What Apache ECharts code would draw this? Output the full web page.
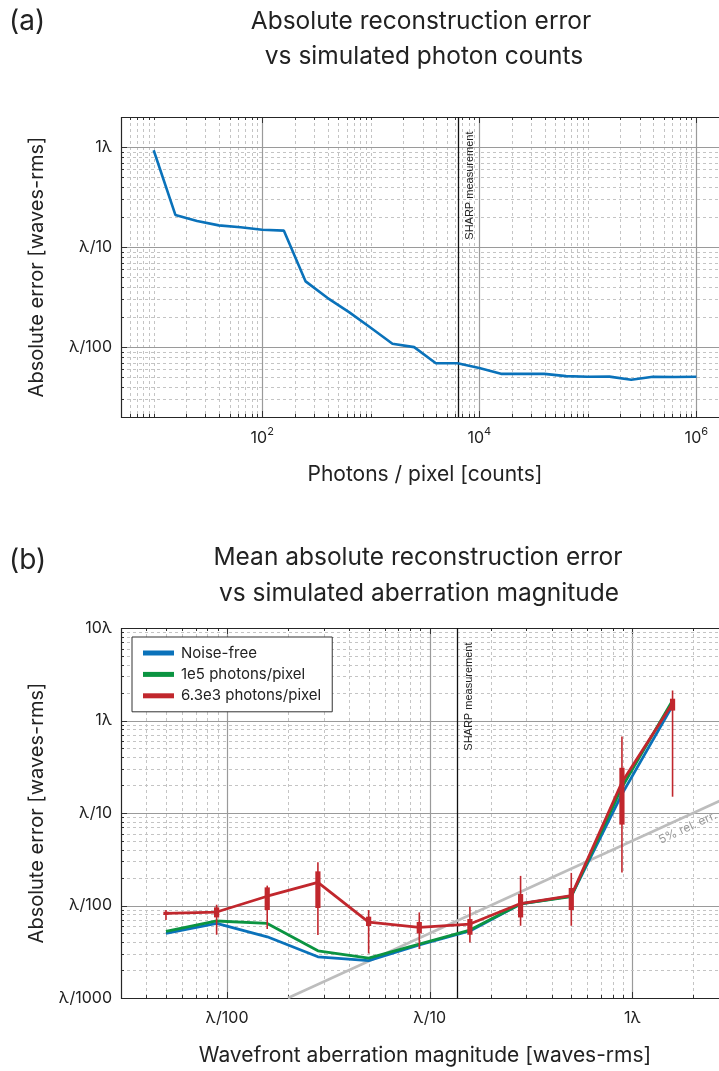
<!DOCTYPE html>
<html>
<head>
<meta charset="utf-8">
<script src="https://cdn.jsdelivr.net/npm/echarts@6/dist/echarts.min.js"></script>
<style>
  html, body { margin: 0; padding: 0; background: #ffffff; }
  #chart { width: 719px; height: 1071px; }
</style>
</head>
<body>
<div id="chart"></div>
<script>
// ---------- Panel (a): error vs photon count ----------
const photonCounts = [10, 15.85, 25.12, 39.81, 63.1, 100, 158.5, 251.2, 398.1, 631, 1000, 1585, 2512, 3981, 6310,
  10000, 15850, 25120, 39810, 63100, 100000, 158500, 251200, 398100, 631000, 1000000];
const photonError = [0.93, 0.21, 0.182, 0.165, 0.158, 0.149, 0.146, 0.0454, 0.0311, 0.0224, 0.0156, 0.0108, 0.0100,
  0.0069, 0.0069, 0.00617, 0.0054, 0.0054, 0.0054, 0.00513, 0.00505, 0.00507, 0.00471, 0.00505, 0.00502, 0.00505];
const photonTicks = [100, 10000, 1000000];
const photonTickExp = ['2', '4', '6'];
const errTicksA = [1, 0.1, 0.01];
const errTickLabelsA = ['1λ', 'λ/10', 'λ/100'];
const sharpPhotons = 6310;

// ---------- Panel (b): error vs aberration magnitude ----------
const aberrationRms = [0.005, 0.00889, 0.0158, 0.0281, 0.05, 0.0889, 0.158, 0.281, 0.5, 0.889, 1.58];
const errNoiseFree = [0.0050, 0.0064, 0.00459, 0.00279, 0.00253, 0.00374, 0.0053, 0.0104, 0.0126, 0.16, 1.45];
const err1e5 = [0.00525, 0.0068, 0.0064, 0.00324, 0.0027, 0.00383, 0.00543, 0.0104, 0.0125, 0.19, 1.65];
const err63e3 = [0.0082, 0.0085, 0.0126, 0.0178, 0.0066, 0.0058, 0.0063, 0.0105, 0.0128, 0.215, 1.54];
const err63e3WhiskerLow = [0.00697, 0.00483, 0.00557, 0.0048, 0.00303, 0.00338, 0.00399, 0.00604, 0.00604, 0.0228, 0.150];
const err63e3BoxLow = [0.00789, 0.00744, 0.00893, 0.0094, 0.0060, 0.00499, 0.00483, 0.00743, 0.00893, 0.0749, 1.28];
const err63e3BoxHigh = [0.00857, 0.00955, 0.0157, 0.0234, 0.00757, 0.00663, 0.00714, 0.0133, 0.01546, 0.308, 1.72];
const err63e3WhiskerHigh = [0.00893, 0.0102, 0.0164, 0.0293, 0.00893, 0.00842, 0.0097, 0.0209, 0.0225, 0.671, 2.11];
const relErrX = [0.02, 3];
const relErrY = [0.001, 0.15];
const relErrLabelAt = [1.78, 0.089];
const aberrTicks = [0.01, 0.1, 1];
const aberrTickLabels = ['λ/100', 'λ/10', '1λ'];
const errTicksB = [10, 1, 0.1, 0.01, 0.001];
const errTickLabelsB = ['10λ', '1λ', 'λ/10', 'λ/100', 'λ/1000'];
const sharpAberration = 0.137;

const FONT = 'Inter, Roboto, "Noto Sans", sans-serif';
const TEXT = '#222222';
const BLUE = '#0a72ba';
const GREEN = '#0b9441';
const RED = '#c1272d';
const MAJOR = { stroke: '#9a9a9a', lineWidth: 1.2 };
const MINOR = { stroke: '#c4c4c4', lineWidth: 1, lineDash: [3, 3] };
const TICK = { stroke: '#333333', lineWidth: 1 };

function matchTick(v, ticks) {
  for (let i = 0; i < ticks.length; i++) {
    if (Math.abs(Math.log10(v) - Math.log10(ticks[i])) < 1e-6) return i;
  }
  return -1;
}

// k * 10^e values strictly inside (lo, hi): positions of log grid lines
function decadeGrid(lo, hi) {
  const out = [];
  for (let e = Math.floor(Math.log10(lo)); e <= Math.ceil(Math.log10(hi)); e++) {
    for (let k = 1; k <= 9; k++) {
      const v = +(k * Math.pow(10, e)).toPrecision(6);
      if (v > lo * 1.0001 && v < hi * 0.9999) out.push(v);
    }
  }
  return out;
}

// Log grid (solid major, dashed minor), inside ticks and the plot box
function frameSeries(idx, xLim, yLim, xMajor, yMajor) {
  const xAll = decadeGrid(xLim[0], xLim[1]);
  const yAll = decadeGrid(yLim[0], yLim[1]);
  return {
    type: 'custom', xAxisIndex: idx, yAxisIndex: idx, z: 1, silent: true, clip: false,
    data: [[xLim[0], yLim[0]]],
    renderItem: (params, api) => {
      const cs = params.coordSys;
      const L = cs.x, T = cs.y, R = cs.x + cs.width, B = cs.y + cs.height;
      const kids = [];
      const seg = (x1, y1, x2, y2, style) => kids.push({ type: 'line', shape: { x1, y1, x2, y2 }, style });
      xAll.forEach(v => {
        const px = Math.round(api.coord([v, yLim[0]])[0]) + 0.5;
        const major = matchTick(v, xMajor) >= 0;
        seg(px, T, px, B, major ? MAJOR : MINOR);
        const len = major ? 6 : 3;
        seg(px, B, px, B - len, TICK);
        seg(px, T, px, T + len, TICK);
      });
      yAll.forEach(v => {
        const py = Math.round(api.coord([xLim[0], v])[1]) + 0.5;
        const major = matchTick(v, yMajor) >= 0;
        seg(L, py, R, py, major ? MAJOR : MINOR);
        const len = major ? 6 : 3;
        seg(L, py, L + len, py, TICK);
        seg(R, py, R - len, py, TICK);
      });
      kids.push({ type: 'rect', shape: { x: Math.round(L) + 0.5, y: Math.round(T) + 0.5, width: cs.width, height: cs.height },
        style: { fill: 'none', stroke: '#262626', lineWidth: 1.2 } });
      return { type: 'group', children: kids };
    }
  };
}

// Vertical marker for the SHARP measurement with its rotated caption
function sharpSeries(idx, xVal, yRef) {
  return {
    type: 'custom', xAxisIndex: idx, yAxisIndex: idx, z: 1.5, silent: true, clip: false,
    data: [[xVal, yRef]],
    renderItem: (params, api) => {
      const cs = params.coordSys;
      const px = Math.round(api.coord([api.value(0), api.value(1)])[0]) + 0.5;
      return { type: 'group', children: [
        { type: 'line', shape: { x1: px, y1: cs.y, x2: px, y2: cs.y + cs.height }, style: { stroke: '#111111', lineWidth: 1.3 } },
        { type: 'text', x: px + 5.5, y: cs.y + 14.5, rotation: Math.PI / 2,
          style: { text: 'SHARP measurement', fontSize: 11, fontFamily: '"Liberation Sans", Arial, sans-serif',
            fill: '#222222', align: 'right', verticalAlign: 'top' } }
      ] };
    }
  };
}

function axisFont(size) { return { fontSize: size, fontFamily: FONT, color: TEXT }; }

const option = {
  animation: false,
  backgroundColor: '#ffffff',
  textStyle: { fontFamily: FONT },
  grid: [
    { left: 121, top: 117, width: 608, height: 300, outerBoundsMode: 'none', containLabel: false },
    { left: 121, top: 628, width: 608, height: 370, outerBoundsMode: 'none', containLabel: false }
  ],
  xAxis: [
    {
      gridIndex: 0, type: 'log', logBase: 10, min: 5, max: 2e6,
      axisLine: { show: false }, axisTick: { show: false }, splitLine: { show: false },
      axisLabel: {
        margin: 9,
        formatter: v => { const i = matchTick(v, photonTicks); return i < 0 ? '' : '{b|10}{sup|' + photonTickExp[i] + '}'; },
        rich: {
          b: { fontSize: 16, fontFamily: FONT, color: TEXT, lineHeight: 20, verticalAlign: 'bottom' },
          sup: { fontSize: 11, fontFamily: FONT, color: TEXT, lineHeight: 12, verticalAlign: 'top' }
        }
      },
      name: 'Photons / pixel [counts]', nameLocation: 'middle', nameGap: 47, nameTextStyle: axisFont(21)
    },
    {
      gridIndex: 1, type: 'log', logBase: 10, min: 0.003, max: 3,
      axisLine: { show: false }, axisTick: { show: false }, splitLine: { show: false },
      axisLabel: {
        margin: 12, ...axisFont(16),
        formatter: v => { const i = matchTick(v, aberrTicks); return i < 0 ? '' : aberrTickLabels[i]; }
      },
      name: 'Wavefront aberration magnitude [waves-rms]', nameLocation: 'middle', nameGap: 47, nameTextStyle: axisFont(21)
    }
  ],
  yAxis: [
    {
      gridIndex: 0, type: 'log', logBase: 10, min: 0.002, max: 2,
      axisLine: { show: false }, axisTick: { show: false }, splitLine: { show: false },
      axisLabel: {
        margin: 9, ...axisFont(16),
        formatter: v => { const i = matchTick(v, errTicksA); return i < 0 ? '' : errTickLabelsA[i]; }
      },
      name: 'Absolute error [waves-rms]', nameLocation: 'middle', nameGap: 74, nameTextStyle: axisFont(20)
    },
    {
      gridIndex: 1, type: 'log', logBase: 10, min: 0.001, max: 10,
      axisLine: { show: false }, axisTick: { show: false }, splitLine: { show: false },
      axisLabel: {
        margin: 9, ...axisFont(16),
        formatter: v => { const i = matchTick(v, errTicksB); return i < 0 ? '' : errTickLabelsB[i]; }
      },
      name: 'Absolute error [waves-rms]', nameLocation: 'middle', nameGap: 74, nameTextStyle: axisFont(20)
    }
  ],
  legend: {
    data: ['Noise-free', '1e5 photons/pixel', '6.3e3 photons/pixel'],
    orient: 'vertical', left: 132, top: 637,
    backgroundColor: '#ffffff', borderColor: '#333333', borderWidth: 1, borderRadius: 0,
    padding: [7, 11, 7, 11], itemGap: 3.4,
    itemWidth: 31, itemHeight: 5, icon: 'rect',
    textStyle: { fontSize: 15, fontFamily: FONT, color: TEXT, lineHeight: 18, padding: [0, 0, 0, 2] }
  },
  graphic: [
    { type: 'text', x: 9, y: 22, style: { text: '(a)', fontSize: 28, fontFamily: FONT, fill: TEXT, align: 'left', verticalAlign: 'middle' } },
    { type: 'text', x: 421, y: 22, style: { text: 'Absolute reconstruction error', fontSize: 24.5, fontFamily: FONT, fill: TEXT, align: 'center', verticalAlign: 'middle' } },
    { type: 'text', x: 424, y: 57, style: { text: 'vs simulated photon counts', fontSize: 24.5, fontFamily: FONT, fill: TEXT, align: 'center', verticalAlign: 'middle' } },
    { type: 'text', x: 9, y: 561, style: { text: '(b)', fontSize: 28, fontFamily: FONT, fill: TEXT, align: 'left', verticalAlign: 'middle' } },
    { type: 'text', x: 418, y: 558, style: { text: 'Mean absolute reconstruction error', fontSize: 24.5, fontFamily: FONT, fill: TEXT, align: 'center', verticalAlign: 'middle' } },
    { type: 'text', x: 419, y: 594, style: { text: 'vs simulated aberration magnitude', fontSize: 24.5, fontFamily: FONT, fill: TEXT, align: 'center', verticalAlign: 'middle' } }
  ],
  series: [
    frameSeries(0, [5, 2e6], [0.002, 2], photonTicks, errTicksA),
    frameSeries(1, [0.003, 3], [0.001, 10], aberrTicks, [1, 0.1, 0.01]),
    sharpSeries(0, sharpPhotons, 0.01),
    sharpSeries(1, sharpAberration, 0.01),
    {
      type: 'line', xAxisIndex: 0, yAxisIndex: 0, z: 2, silent: true,
      data: photonCounts.map((x, i) => [x, photonError[i]]),
      showSymbol: false, lineStyle: { color: BLUE, width: 2.6 }, itemStyle: { color: BLUE }
    },
    // 5% relative-error reference line and its caption
    {
      type: 'line', xAxisIndex: 1, yAxisIndex: 1, z: 1.6, silent: true,
      data: relErrX.map((x, i) => [x, relErrY[i]]),
      showSymbol: false, lineStyle: { color: '#bdbdbd', width: 2.6 }
    },
    {
      type: 'custom', xAxisIndex: 1, yAxisIndex: 1, z: 1.6, silent: true, clip: false,
      data: [relErrLabelAt],
      renderItem: (params, api) => {
        const a = api.coord([relErrX[0], relErrY[0]]);
        const b = api.coord([relErrX[1], relErrY[1]]);
        const ang = Math.atan2(-(b[1] - a[1]), b[0] - a[0]);
        const p = api.coord([api.value(0), api.value(1)]);
        return { type: 'text', x: p[0] + 5 * Math.sin(ang), y: p[1] + 5 * Math.cos(ang), rotation: ang,
          style: { text: '5% rel. err.', fontSize: 12, fontFamily: FONT, fill: '#9b9b9b', align: 'center', verticalAlign: 'top' } };
      }
    },
    {
      name: 'Noise-free', type: 'line', xAxisIndex: 1, yAxisIndex: 1, z: 2,
      data: aberrationRms.map((x, i) => [x, errNoiseFree[i]]),
      showSymbol: false, color: BLUE, lineStyle: { color: BLUE, width: 2.8 }, itemStyle: { color: BLUE }
    },
    {
      name: '1e5 photons/pixel', type: 'line', xAxisIndex: 1, yAxisIndex: 1, z: 2,
      data: aberrationRms.map((x, i) => [x, err1e5[i]]),
      showSymbol: false, color: GREEN, lineStyle: { color: GREEN, width: 2.8 }, itemStyle: { color: GREEN }
    },
    {
      name: '6.3e3 photons/pixel', type: 'line', xAxisIndex: 1, yAxisIndex: 1, z: 2,
      data: aberrationRms.map((x, i) => [x, err63e3[i]]),
      showSymbol: false, color: RED, lineStyle: { color: RED, width: 2.8 }, itemStyle: { color: RED }
    },
    // spread of the 6.3e3 runs: whisker and inter-quartile box
    {
      type: 'custom', xAxisIndex: 1, yAxisIndex: 1, z: 3, silent: true,
      data: aberrationRms.map((x, i) => [x, err63e3WhiskerLow[i], err63e3BoxLow[i], err63e3BoxHigh[i], err63e3WhiskerHigh[i]]),
      encode: { x: 0, y: [1, 2, 3, 4] },
      renderItem: (params, api) => {
        const x = api.value(0);
        const wl = api.coord([x, api.value(1)]);
        const bl = api.coord([x, api.value(2)]);
        const bh = api.coord([x, api.value(3)]);
        const wh = api.coord([x, api.value(4)]);
        return { type: 'group', children: [
          { type: 'line', shape: { x1: wl[0], y1: wl[1], x2: wh[0], y2: wh[1] }, style: { stroke: RED, lineWidth: 1.6 } },
          { type: 'rect', shape: { x: bl[0] - 2.6, y: bh[1], width: 5.2, height: bl[1] - bh[1] }, style: { fill: RED } }
        ] };
      }
    }
  ]
};

const chart = echarts.init(document.getElementById('chart'), null, { renderer: 'canvas' });
chart.setOption(option);
</script>
</body>
</html>
